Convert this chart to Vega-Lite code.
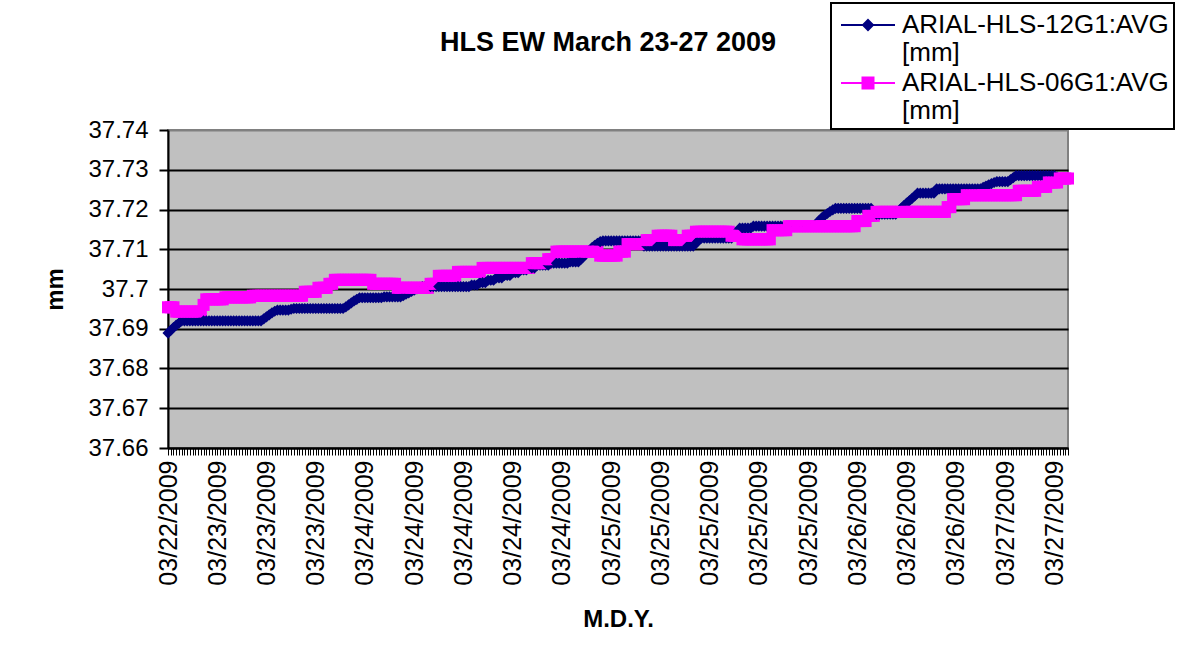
{
"$schema": "https://vega.github.io/schema/vega-lite/v6.json",
"width": 900,
"height": 318,
"autosize": {"type": "none"},
"padding": {"left": 168, "top": 130, "right": 121, "bottom": 213},
"background": "white",
"title": {"text": "HLS EW March 23-27 2009", "font": "Liberation Sans", "fontSize": 27, "fontWeight": "bold", "color": "black", "anchor": "middle", "dx": -10, "offset": -55},
"config": {"view": {"fill": "#C0C0C0", "stroke": "#808080", "strokeWidth": 2}, "font": "Liberation Sans"},
"datasets": {
"series": [{"s": "a", "name": "ARIAL-HLS-12G1:AVG [mm]"}, {"s": "b", "name": "ARIAL-HLS-06G1:AVG [mm]"}],
"rows": [
{"t":"03/22/2009 0","a":37.6889,"b":37.6954},
{"t":"03/22/2009 1","a":37.6896,"b":37.6954},
{"t":"03/22/2009 2","a":37.6903,"b":37.6954},
{"t":"03/22/2009 3","a":37.6909,"b":37.6943},
{"t":"03/22/2009 4","a":37.6914,"b":37.6943},
{"t":"03/22/2009 5","a":37.692,"b":37.6943},
{"t":"03/22/2009 6","a":37.692,"b":37.6943},
{"t":"03/22/2009 7","a":37.692,"b":37.6943},
{"t":"03/22/2009 8","a":37.692,"b":37.6943},
{"t":"03/22/2009 9","a":37.692,"b":37.6943},
{"t":"03/22/2009 10","a":37.692,"b":37.6943},
{"t":"03/22/2009 11","a":37.692,"b":37.6943},
{"t":"03/22/2009 12","a":37.692,"b":37.6943},
{"t":"03/22/2009 13","a":37.692,"b":37.696},
{"t":"03/22/2009 14","a":37.692,"b":37.6974},
{"t":"03/22/2009 15","a":37.692,"b":37.6974},
{"t":"03/22/2009 16","a":37.692,"b":37.6974},
{"t":"03/22/2009 17","a":37.692,"b":37.6974},
{"t":"03/23/2009 18","a":37.692,"b":37.6974},
{"t":"03/23/2009 19","a":37.692,"b":37.6974},
{"t":"03/23/2009 20","a":37.692,"b":37.6974},
{"t":"03/23/2009 21","a":37.692,"b":37.6979},
{"t":"03/23/2009 22","a":37.692,"b":37.6979},
{"t":"03/23/2009 23","a":37.692,"b":37.6979},
{"t":"03/23/2009 24","a":37.692,"b":37.6979},
{"t":"03/23/2009 25","a":37.692,"b":37.6979},
{"t":"03/23/2009 26","a":37.692,"b":37.6979},
{"t":"03/23/2009 27","a":37.692,"b":37.6979},
{"t":"03/23/2009 28","a":37.692,"b":37.6979},
{"t":"03/23/2009 29","a":37.692,"b":37.6979},
{"t":"03/23/2009 30","a":37.692,"b":37.6979},
{"t":"03/23/2009 31","a":37.692,"b":37.6983},
{"t":"03/23/2009 32","a":37.692,"b":37.6983},
{"t":"03/23/2009 33","a":37.692,"b":37.6983},
{"t":"03/23/2009 34","a":37.692,"b":37.6983},
{"t":"03/23/2009 35","a":37.6925,"b":37.6983},
{"t":"03/23/2009 36","a":37.693,"b":37.6983},
{"t":"03/23/2009 37","a":37.6935,"b":37.6983},
{"t":"03/23/2009 38","a":37.694,"b":37.6983},
{"t":"03/23/2009 39","a":37.6944,"b":37.6983},
{"t":"03/23/2009 40","a":37.6947,"b":37.6983},
{"t":"03/23/2009 41","a":37.6947,"b":37.6983},
{"t":"03/23/2009 42","a":37.6947,"b":37.6983},
{"t":"03/23/2009 43","a":37.6947,"b":37.6983},
{"t":"03/23/2009 44","a":37.6947,"b":37.6983},
{"t":"03/23/2009 45","a":37.6949,"b":37.6983},
{"t":"03/23/2009 46","a":37.6951,"b":37.6983},
{"t":"03/23/2009 47","a":37.6951,"b":37.6983},
{"t":"03/23/2009 48","a":37.6951,"b":37.6983},
{"t":"03/23/2009 49","a":37.6951,"b":37.6983},
{"t":"03/23/2009 50","a":37.6951,"b":37.6993},
{"t":"03/23/2009 51","a":37.6951,"b":37.6993},
{"t":"03/23/2009 52","a":37.6951,"b":37.6993},
{"t":"03/23/2009 53","a":37.6951,"b":37.6993},
{"t":"03/23/2009 54","a":37.6951,"b":37.6993},
{"t":"03/23/2009 55","a":37.6951,"b":37.7003},
{"t":"03/23/2009 56","a":37.6951,"b":37.7003},
{"t":"03/23/2009 57","a":37.6951,"b":37.7003},
{"t":"03/23/2009 58","a":37.6951,"b":37.7003},
{"t":"03/23/2009 59","a":37.6951,"b":37.7013},
{"t":"03/23/2009 60","a":37.6951,"b":37.7013},
{"t":"03/23/2009 61","a":37.6951,"b":37.7023},
{"t":"03/23/2009 62","a":37.6951,"b":37.7023},
{"t":"03/23/2009 63","a":37.6951,"b":37.7023},
{"t":"03/23/2009 64","a":37.6951,"b":37.7023},
{"t":"03/23/2009 65","a":37.6955,"b":37.7023},
{"t":"03/23/2009 66","a":37.696,"b":37.7023},
{"t":"03/23/2009 67","a":37.6965,"b":37.7023},
{"t":"03/23/2009 68","a":37.697,"b":37.7023},
{"t":"03/23/2009 69","a":37.6974,"b":37.7023},
{"t":"03/23/2009 70","a":37.6978,"b":37.7023},
{"t":"03/23/2009 71","a":37.6978,"b":37.7023},
{"t":"03/24/2009 72","a":37.6978,"b":37.7023},
{"t":"03/24/2009 73","a":37.6978,"b":37.7023},
{"t":"03/24/2009 74","a":37.6978,"b":37.7023},
{"t":"03/24/2009 75","a":37.6978,"b":37.7013},
{"t":"03/24/2009 76","a":37.6978,"b":37.7013},
{"t":"03/24/2009 77","a":37.6978,"b":37.7013},
{"t":"03/24/2009 78","a":37.6978,"b":37.7013},
{"t":"03/24/2009 79","a":37.698,"b":37.7013},
{"t":"03/24/2009 80","a":37.698,"b":37.7013},
{"t":"03/24/2009 81","a":37.698,"b":37.7013},
{"t":"03/24/2009 82","a":37.698,"b":37.7013},
{"t":"03/24/2009 83","a":37.698,"b":37.7013},
{"t":"03/24/2009 84","a":37.698,"b":37.7003},
{"t":"03/24/2009 85","a":37.698,"b":37.7003},
{"t":"03/24/2009 86","a":37.6983,"b":37.7003},
{"t":"03/24/2009 87","a":37.6987,"b":37.7003},
{"t":"03/24/2009 88","a":37.699,"b":37.7003},
{"t":"03/24/2009 89","a":37.6994,"b":37.7003},
{"t":"03/24/2009 90","a":37.6997,"b":37.7003},
{"t":"03/24/2009 91","a":37.7,"b":37.7003},
{"t":"03/24/2009 92","a":37.7003,"b":37.7003},
{"t":"03/24/2009 93","a":37.7006,"b":37.7003},
{"t":"03/24/2009 94","a":37.7006,"b":37.7003},
{"t":"03/24/2009 95","a":37.7006,"b":37.7003},
{"t":"03/24/2009 96","a":37.7006,"b":37.7013},
{"t":"03/24/2009 97","a":37.7006,"b":37.7013},
{"t":"03/24/2009 98","a":37.7006,"b":37.7013},
{"t":"03/24/2009 99","a":37.7006,"b":37.7033},
{"t":"03/24/2009 100","a":37.7006,"b":37.7033},
{"t":"03/24/2009 101","a":37.7006,"b":37.7033},
{"t":"03/24/2009 102","a":37.7006,"b":37.7033},
{"t":"03/24/2009 103","a":37.7006,"b":37.7033},
{"t":"03/24/2009 104","a":37.7006,"b":37.7033},
{"t":"03/24/2009 105","a":37.7006,"b":37.7033},
{"t":"03/24/2009 106","a":37.7006,"b":37.7043},
{"t":"03/24/2009 107","a":37.7006,"b":37.7043},
{"t":"03/24/2009 108","a":37.7006,"b":37.7043},
{"t":"03/24/2009 109","a":37.7006,"b":37.7043},
{"t":"03/24/2009 110","a":37.7006,"b":37.7043},
{"t":"03/24/2009 111","a":37.701,"b":37.7043},
{"t":"03/24/2009 112","a":37.701,"b":37.7043},
{"t":"03/24/2009 113","a":37.701,"b":37.7043},
{"t":"03/24/2009 114","a":37.7016,"b":37.7043},
{"t":"03/24/2009 115","a":37.7016,"b":37.7053},
{"t":"03/24/2009 116","a":37.7016,"b":37.7053},
{"t":"03/24/2009 117","a":37.7022,"b":37.7053},
{"t":"03/24/2009 118","a":37.7022,"b":37.7053},
{"t":"03/24/2009 119","a":37.7022,"b":37.7053},
{"t":"03/24/2009 120","a":37.7028,"b":37.7053},
{"t":"03/24/2009 121","a":37.7028,"b":37.7053},
{"t":"03/24/2009 122","a":37.7028,"b":37.7053},
{"t":"03/24/2009 123","a":37.7034,"b":37.7053},
{"t":"03/24/2009 124","a":37.7034,"b":37.7053},
{"t":"03/24/2009 125","a":37.7034,"b":37.7053},
{"t":"03/24/2009 126","a":37.7041,"b":37.7053},
{"t":"03/24/2009 127","a":37.7041,"b":37.7053},
{"t":"03/24/2009 128","a":37.7041,"b":37.7053},
{"t":"03/24/2009 129","a":37.7048,"b":37.7053},
{"t":"03/24/2009 130","a":37.7048,"b":37.7053},
{"t":"03/24/2009 131","a":37.7048,"b":37.7053},
{"t":"03/24/2009 132","a":37.7053,"b":37.7053},
{"t":"03/24/2009 133","a":37.7053,"b":37.7065},
{"t":"03/24/2009 134","a":37.7053,"b":37.7065},
{"t":"03/24/2009 135","a":37.706,"b":37.7065},
{"t":"03/24/2009 136","a":37.706,"b":37.7065},
{"t":"03/24/2009 137","a":37.706,"b":37.7065},
{"t":"03/24/2009 138","a":37.706,"b":37.7065},
{"t":"03/24/2009 139","a":37.706,"b":37.7075},
{"t":"03/24/2009 140","a":37.7065,"b":37.7075},
{"t":"03/24/2009 141","a":37.7065,"b":37.7075},
{"t":"03/24/2009 142","a":37.7065,"b":37.7094},
{"t":"03/24/2009 143","a":37.7065,"b":37.7094},
{"t":"03/24/2009 144","a":37.7065,"b":37.7094},
{"t":"03/24/2009 145","a":37.7065,"b":37.7094},
{"t":"03/24/2009 146","a":37.7065,"b":37.7094},
{"t":"03/24/2009 147","a":37.7068,"b":37.7094},
{"t":"03/24/2009 148","a":37.7068,"b":37.7094},
{"t":"03/24/2009 149","a":37.7068,"b":37.7094},
{"t":"03/24/2009 150","a":37.7068,"b":37.7094},
{"t":"03/24/2009 151","a":37.7075,"b":37.7094},
{"t":"03/24/2009 152","a":37.7082,"b":37.7094},
{"t":"03/24/2009 153","a":37.709,"b":37.7094},
{"t":"03/24/2009 154","a":37.7097,"b":37.7094},
{"t":"03/24/2009 155","a":37.7104,"b":37.7094},
{"t":"03/24/2009 156","a":37.711,"b":37.7094},
{"t":"03/24/2009 157","a":37.7115,"b":37.7094},
{"t":"03/24/2009 158","a":37.7119,"b":37.7084},
{"t":"03/24/2009 159","a":37.7121,"b":37.7084},
{"t":"03/24/2009 160","a":37.7121,"b":37.7084},
{"t":"03/24/2009 161","a":37.7121,"b":37.7084},
{"t":"03/25/2009 162","a":37.7121,"b":37.7084},
{"t":"03/25/2009 163","a":37.7121,"b":37.7084},
{"t":"03/25/2009 164","a":37.7121,"b":37.7084},
{"t":"03/25/2009 165","a":37.7121,"b":37.7094},
{"t":"03/25/2009 166","a":37.7121,"b":37.7094},
{"t":"03/25/2009 167","a":37.7121,"b":37.7094},
{"t":"03/25/2009 168","a":37.7121,"b":37.7113},
{"t":"03/25/2009 169","a":37.7121,"b":37.7113},
{"t":"03/25/2009 170","a":37.7121,"b":37.7113},
{"t":"03/25/2009 171","a":37.7121,"b":37.7113},
{"t":"03/25/2009 172","a":37.7121,"b":37.7113},
{"t":"03/25/2009 173","a":37.7121,"b":37.7113},
{"t":"03/25/2009 174","a":37.7108,"b":37.7113},
{"t":"03/25/2009 175","a":37.7108,"b":37.7123},
{"t":"03/25/2009 176","a":37.7108,"b":37.7123},
{"t":"03/25/2009 177","a":37.7108,"b":37.7123},
{"t":"03/25/2009 178","a":37.7108,"b":37.7123},
{"t":"03/25/2009 179","a":37.7108,"b":37.7134},
{"t":"03/25/2009 180","a":37.7108,"b":37.7134},
{"t":"03/25/2009 181","a":37.7108,"b":37.7134},
{"t":"03/25/2009 182","a":37.7108,"b":37.7134},
{"t":"03/25/2009 183","a":37.7108,"b":37.7134},
{"t":"03/25/2009 184","a":37.7108,"b":37.7134},
{"t":"03/25/2009 185","a":37.7108,"b":37.7123},
{"t":"03/25/2009 186","a":37.7108,"b":37.7123},
{"t":"03/25/2009 187","a":37.7108,"b":37.7123},
{"t":"03/25/2009 188","a":37.7108,"b":37.7123},
{"t":"03/25/2009 189","a":37.7108,"b":37.7123},
{"t":"03/25/2009 190","a":37.7108,"b":37.7134},
{"t":"03/25/2009 191","a":37.7108,"b":37.7134},
{"t":"03/25/2009 192","a":37.7108,"b":37.7134},
{"t":"03/25/2009 193","a":37.7115,"b":37.7144},
{"t":"03/25/2009 194","a":37.7122,"b":37.7144},
{"t":"03/25/2009 195","a":37.7128,"b":37.7144},
{"t":"03/25/2009 196","a":37.7128,"b":37.7144},
{"t":"03/25/2009 197","a":37.7128,"b":37.7144},
{"t":"03/25/2009 198","a":37.7128,"b":37.7144},
{"t":"03/25/2009 199","a":37.7128,"b":37.7144},
{"t":"03/25/2009 200","a":37.7128,"b":37.7144},
{"t":"03/25/2009 201","a":37.7128,"b":37.7144},
{"t":"03/25/2009 202","a":37.7128,"b":37.7144},
{"t":"03/25/2009 203","a":37.7128,"b":37.7144},
{"t":"03/25/2009 204","a":37.7128,"b":37.7144},
{"t":"03/25/2009 205","a":37.7128,"b":37.7144},
{"t":"03/25/2009 206","a":37.7128,"b":37.7134},
{"t":"03/25/2009 207","a":37.7136,"b":37.7134},
{"t":"03/25/2009 208","a":37.7144,"b":37.7134},
{"t":"03/25/2009 209","a":37.7153,"b":37.7134},
{"t":"03/25/2009 210","a":37.7153,"b":37.7125},
{"t":"03/25/2009 211","a":37.7153,"b":37.7125},
{"t":"03/25/2009 212","a":37.7153,"b":37.7125},
{"t":"03/25/2009 213","a":37.7153,"b":37.7125},
{"t":"03/25/2009 214","a":37.7158,"b":37.7125},
{"t":"03/25/2009 215","a":37.7158,"b":37.7125},
{"t":"03/25/2009 216","a":37.7158,"b":37.7125},
{"t":"03/25/2009 217","a":37.7158,"b":37.7125},
{"t":"03/25/2009 218","a":37.7158,"b":37.7125},
{"t":"03/25/2009 219","a":37.7158,"b":37.7125},
{"t":"03/25/2009 220","a":37.7158,"b":37.7125},
{"t":"03/25/2009 221","a":37.7158,"b":37.7148},
{"t":"03/25/2009 222","a":37.7158,"b":37.7148},
{"t":"03/25/2009 223","a":37.7158,"b":37.7148},
{"t":"03/25/2009 224","a":37.7158,"b":37.7148},
{"t":"03/25/2009 225","a":37.7158,"b":37.7148},
{"t":"03/25/2009 226","a":37.7158,"b":37.7148},
{"t":"03/25/2009 227","a":37.7158,"b":37.7158},
{"t":"03/25/2009 228","a":37.7158,"b":37.7158},
{"t":"03/25/2009 229","a":37.7158,"b":37.7158},
{"t":"03/25/2009 230","a":37.7158,"b":37.7158},
{"t":"03/25/2009 231","a":37.7158,"b":37.7158},
{"t":"03/25/2009 232","a":37.7158,"b":37.7158},
{"t":"03/25/2009 233","a":37.7158,"b":37.7158},
{"t":"03/25/2009 234","a":37.7158,"b":37.7158},
{"t":"03/25/2009 235","a":37.7158,"b":37.7158},
{"t":"03/25/2009 236","a":37.7158,"b":37.7158},
{"t":"03/25/2009 237","a":37.7165,"b":37.7158},
{"t":"03/25/2009 238","a":37.7172,"b":37.7158},
{"t":"03/25/2009 239","a":37.7179,"b":37.7158},
{"t":"03/25/2009 240","a":37.7185,"b":37.7158},
{"t":"03/25/2009 241","a":37.719,"b":37.7158},
{"t":"03/25/2009 242","a":37.7195,"b":37.7158},
{"t":"03/25/2009 243","a":37.7199,"b":37.7158},
{"t":"03/25/2009 244","a":37.7203,"b":37.7158},
{"t":"03/25/2009 245","a":37.7203,"b":37.7158},
{"t":"03/25/2009 246","a":37.7203,"b":37.7158},
{"t":"03/25/2009 247","a":37.7203,"b":37.7158},
{"t":"03/25/2009 248","a":37.7203,"b":37.7158},
{"t":"03/25/2009 249","a":37.7203,"b":37.7158},
{"t":"03/25/2009 250","a":37.7203,"b":37.7158},
{"t":"03/25/2009 251","a":37.7203,"b":37.7158},
{"t":"03/26/2009 252","a":37.7203,"b":37.7171},
{"t":"03/26/2009 253","a":37.7203,"b":37.7171},
{"t":"03/26/2009 254","a":37.7203,"b":37.7171},
{"t":"03/26/2009 255","a":37.7203,"b":37.7171},
{"t":"03/26/2009 256","a":37.7203,"b":37.7184},
{"t":"03/26/2009 257","a":37.7203,"b":37.7184},
{"t":"03/26/2009 258","a":37.7196,"b":37.7184},
{"t":"03/26/2009 259","a":37.7188,"b":37.7194},
{"t":"03/26/2009 260","a":37.7188,"b":37.7194},
{"t":"03/26/2009 261","a":37.7188,"b":37.7194},
{"t":"03/26/2009 262","a":37.7188,"b":37.7194},
{"t":"03/26/2009 263","a":37.7188,"b":37.7194},
{"t":"03/26/2009 264","a":37.7188,"b":37.7194},
{"t":"03/26/2009 265","a":37.7188,"b":37.7194},
{"t":"03/26/2009 266","a":37.7188,"b":37.7194},
{"t":"03/26/2009 267","a":37.7195,"b":37.7194},
{"t":"03/26/2009 268","a":37.7203,"b":37.7194},
{"t":"03/26/2009 269","a":37.721,"b":37.7194},
{"t":"03/26/2009 270","a":37.7216,"b":37.7194},
{"t":"03/26/2009 271","a":37.7222,"b":37.7194},
{"t":"03/26/2009 272","a":37.7228,"b":37.7194},
{"t":"03/26/2009 273","a":37.7234,"b":37.7194},
{"t":"03/26/2009 274","a":37.7241,"b":37.7194},
{"t":"03/26/2009 275","a":37.7241,"b":37.7194},
{"t":"03/26/2009 276","a":37.7241,"b":37.7194},
{"t":"03/26/2009 277","a":37.7241,"b":37.7194},
{"t":"03/26/2009 278","a":37.7241,"b":37.7194},
{"t":"03/26/2009 279","a":37.7241,"b":37.7194},
{"t":"03/26/2009 280","a":37.7241,"b":37.7194},
{"t":"03/26/2009 281","a":37.7252,"b":37.7194},
{"t":"03/26/2009 282","a":37.7252,"b":37.7194},
{"t":"03/26/2009 283","a":37.7252,"b":37.7194},
{"t":"03/26/2009 284","a":37.7252,"b":37.7194},
{"t":"03/26/2009 285","a":37.7252,"b":37.7206},
{"t":"03/26/2009 286","a":37.7252,"b":37.7206},
{"t":"03/26/2009 287","a":37.7252,"b":37.7226},
{"t":"03/26/2009 288","a":37.7252,"b":37.7226},
{"t":"03/26/2009 289","a":37.7252,"b":37.7226},
{"t":"03/26/2009 290","a":37.7252,"b":37.7226},
{"t":"03/26/2009 291","a":37.7252,"b":37.7226},
{"t":"03/26/2009 292","a":37.7252,"b":37.7236},
{"t":"03/26/2009 293","a":37.7252,"b":37.7236},
{"t":"03/26/2009 294","a":37.7252,"b":37.7236},
{"t":"03/26/2009 295","a":37.7252,"b":37.7236},
{"t":"03/26/2009 296","a":37.7252,"b":37.7236},
{"t":"03/26/2009 297","a":37.7252,"b":37.7236},
{"t":"03/26/2009 298","a":37.7256,"b":37.7236},
{"t":"03/26/2009 299","a":37.7259,"b":37.7236},
{"t":"03/26/2009 300","a":37.7262,"b":37.7236},
{"t":"03/26/2009 301","a":37.7265,"b":37.7236},
{"t":"03/26/2009 302","a":37.7268,"b":37.7236},
{"t":"03/26/2009 303","a":37.727,"b":37.7236},
{"t":"03/26/2009 304","a":37.727,"b":37.7236},
{"t":"03/26/2009 305","a":37.727,"b":37.7236},
{"t":"03/27/2009 306","a":37.727,"b":37.7236},
{"t":"03/27/2009 307","a":37.727,"b":37.7236},
{"t":"03/27/2009 308","a":37.7275,"b":37.7236},
{"t":"03/27/2009 309","a":37.728,"b":37.7236},
{"t":"03/27/2009 310","a":37.7285,"b":37.7236},
{"t":"03/27/2009 311","a":37.7285,"b":37.7247},
{"t":"03/27/2009 312","a":37.7285,"b":37.7247},
{"t":"03/27/2009 313","a":37.7285,"b":37.7247},
{"t":"03/27/2009 314","a":37.7285,"b":37.7247},
{"t":"03/27/2009 315","a":37.7285,"b":37.7247},
{"t":"03/27/2009 316","a":37.7285,"b":37.7247},
{"t":"03/27/2009 317","a":37.7285,"b":37.7247},
{"t":"03/27/2009 318","a":37.7285,"b":37.7257},
{"t":"03/27/2009 319","a":37.7285,"b":37.7257},
{"t":"03/27/2009 320","a":37.7285,"b":37.7257},
{"t":"03/27/2009 321","a":37.7285,"b":37.7257},
{"t":"03/27/2009 322","a":37.7285,"b":37.7268},
{"t":"03/27/2009 323","a":37.7285,"b":37.7268},
{"t":"03/27/2009 324","a":37.7285,"b":37.7268},
{"t":"03/27/2009 325","a":37.7282,"b":37.7268},
{"t":"03/27/2009 326","a":37.7278,"b":37.7278},
{"t":"03/27/2009 327","a":37.7278,"b":37.7278},
{"t":"03/27/2009 328","a":37.7278,"b":37.7278},
{"t":"03/27/2009 329","a":37.7278,"b":37.7278}
]
},
"data": {"name": "rows"},
"transform": [
{"fold": ["a", "b"], "as": ["s", "v"]},
{"lookup": "s", "from": {"data": {"name": "series"}, "key": "s", "fields": ["name"]}}
],
"encoding": {
"x": {"field": "t", "type": "ordinal", "sort": null, "scale": {"type": "point", "padding": 0}, "title": "M.D.Y.",
 "axis": {"labelExpr": "toNumber(split(datum.label, ' ')[1]) % 18 == 0 ? split(datum.label, ' ')[0] : ''", "labelAngle": -90, "labelAlign": "right", "labelBaseline": "middle", "labelFontSize": 25, "labelColor": "black", "labelPadding": 5, "labelOverlap": false, "labelBound": false, "labelLimit": 0, "tickColor": "black", "tickSize": 7, "tickWidth": 1, "domainColor": "black", "domainWidth": 2, "grid": false, "titleFontSize": 24, "titleFontWeight": "bold", "titleColor": "black", "titlePadding": 22}},
"y": {"field": "v", "type": "quantitative", "scale": {"domain": [37.66, 37.74], "nice": false, "zero": false}, "title": "mm",
 "axis": {"values": [37.66, 37.67, 37.68, 37.69, 37.7, 37.71, 37.72, 37.73, 37.74], "format": ".2~f", "labelFontSize": 24, "labelColor": "black", "labelPadding": 11, "tickColor": "black", "tickSize": 9, "tickWidth": 2, "domainColor": "black", "domainWidth": 2, "gridColor": {"condition": {"test": "datum.value > 37.735", "value": "#808080"}, "value": "black"}, "gridWidth": 2, "titleFontSize": 24, "titleFontWeight": "bold", "titleColor": "black", "titlePadding": 20}},
"color": {"field": "name", "type": "nominal", "scale": {"domain": ["ARIAL-HLS-12G1:AVG [mm]", "ARIAL-HLS-06G1:AVG [mm]"], "range": ["#000080", "#FF00FF"]},
 "legend": {"title": null, "orient": "none", "legendX": 663, "legendY": -127, "strokeColor": "black", "fillColor": "white", "padding": 5, "labelFontSize": 26, "labelColor": "black", "labelLimit": 500, "labelExpr": "split(datum.label, ' ')", "symbolSize": 1024, "symbolStrokeWidth": 2, "symbolOffset": 15, "labelOffset": 17, "rowPadding": -12,
  "encoding": {
   "legend": {"strokeWidth": {"value": 2}},
   "symbols": {
    "shape": {"condition": {"test": "datum.value == 'ARIAL-HLS-12G1:AVG [mm]'", "value": "M-1.6875,0H1.6875M0,-0.3125L0.3125,0L0,0.3125L-0.3125,0Z"}, "value": "M-1.6875,0H1.6875M-0.344,-0.344H0.344V0.344H-0.344Z"},
    "fill": {"condition": {"test": "datum.value == 'ARIAL-HLS-12G1:AVG [mm]'", "value": "#000080"}, "value": "#FF00FF"},
    "stroke": {"condition": {"test": "datum.value == 'ARIAL-HLS-12G1:AVG [mm]'", "value": "#000080"}, "value": "#FF00FF"},
    "opacity": {"value": 1}
   },
   "labels": {"lineHeight": {"value": 28}}
  }}}
},
"layer": [
{"mark": {"type": "line", "strokeWidth": 2.5}},
{"mark": {"type": "point", "filled": true, "opacity": 1},
 "encoding": {
  "shape": {"condition": {"test": "datum.s == 'a'", "value": "diamond"}, "value": "square"},
  "size": {"condition": {"test": "datum.s == 'a'", "value": 125}, "value": 145}
 }}
]
}
